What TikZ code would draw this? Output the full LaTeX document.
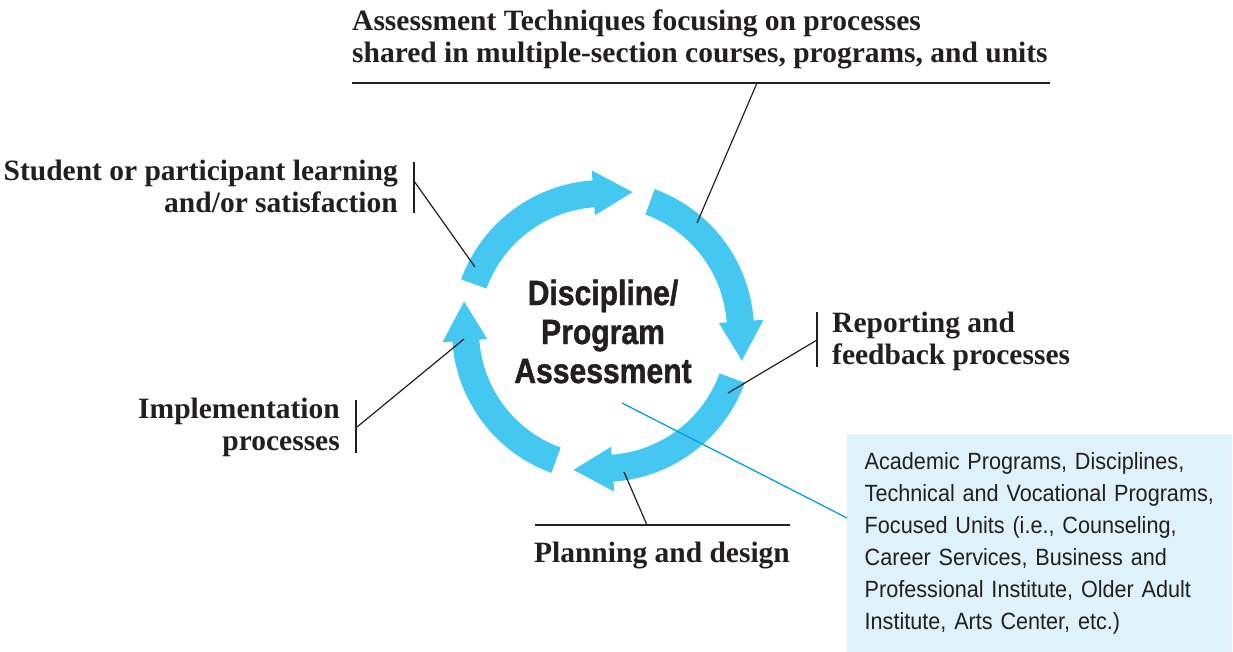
\documentclass[tikz,border=0pt]{standalone}
\usepackage{fontspec}
\setmainfont{Liberation Serif}
\newfontfamily\condsans[FakeStretch=0.86,FakeBold=1.2]{Liberation Sans}
\newfontfamily\boxsans[FakeStretch=0.92]{Liberation Sans}
\usetikzlibrary{positioning}

\definecolor{ringblue}{RGB}{68,200,242}
\definecolor{boxblue}{RGB}{223,241,250}
\definecolor{lineblue}{RGB}{0,160,226}
\definecolor{inkgray}{RGB}{35,31,32}

% one arrow of the ring, tail at angle #1, running clockwise
\newcommand{\ringseg}[1]{%
  \fill[ringblue] (#1:151pt) arc[start angle=#1, end angle=#1-66, radius=151pt]
    -- (#1-66:161pt) -- (#1-82:142pt) -- (#1-66:116pt) -- (#1-66:124pt)
    arc[start angle=#1-66, end angle=#1, radius=124pt] -- cycle;}

\begin{document}
\begin{tikzpicture}[x=1pt,y=-1pt,
    tag/.style={
      font=\bfseries\fontsize{29.5}{32}\selectfont,
      text=inkgray,
      inner sep=0pt
    },
    leader/.style={draw=inkgray, line width=1.4pt},
    unitbox/.style={
      fill=boxblue,
      text=inkgray,
      font=\boxsans\fontsize{23.5}{32}\selectfont,
      align=left,
      text width=350pt,
      inner xsep=17.5pt,
      inner ysep=0pt,
      minimum height=218pt
    }
    ]
    \useasboundingbox (0,0) rectangle (1233,652);

    % the ring
    \begin{scope}[shift={(603,331)}]
      \foreach \a in {160,70,-20,-110} {\ringseg{\a}}
    \end{scope}
    \node[font=\condsans\bfseries\fontsize{35}{39}\selectfont, text=inkgray,
      align=center, inner sep=0pt, anchor=base] (title) at (603,383)
      {Discipline/\\Program\\Assessment};
    \coordinate (pointer) at (622,403);

    % labels
    \node[tag, align=left, anchor=base west] (techniques) at (352,63)
      {Assessment Techniques focusing on processes\\
       shared in multiple-section courses, programs, and units};
    \node[tag, align=right, anchor=base east] (learning) at (398,213)
      {Student or participant learning\\and/or satisfaction};
    \node[tag, align=right, anchor=base east] (implement) at (340,450)
      {Implementation\\processes};
    \node[tag, align=left, anchor=base west] (reporting) at (832,364)
      {Reporting and\\feedback processes};
    \node[tag, anchor=base] (planning) at (662,562) {Planning and design};
    \node[unitbox, anchor=north west] (units) at (847,434)
      {Academic Programs, Disciplines,\\
       Technical and Vocational Programs,\\
       Focused Units (i.e., Counseling,\\
       Career Services, Business and\\
       Professional Institute, Older Adult\\
       Institute, Arts Center, etc.)};

    % rules and bars beside the labels
    \coordinate (techL) at (352,83);
    \coordinate (techR) at (1050,83);
    \coordinate (techhook) at (757,83);
    \coordinate (learnT) at (414,162);
    \coordinate (learnB) at (414,213);
    \coordinate (learnhook) at (414,181);
    \coordinate (implT) at (356,400);
    \coordinate (implB) at (356,453);
    \coordinate (implhook) at (357,427);
    \coordinate (repT) at (817,312);
    \coordinate (repB) at (817,367);
    \coordinate (rephook) at (817,340);
    \coordinate (planL) at (535,525);
    \coordinate (planR) at (790,525);
    \coordinate (planhook) at (647,525);
    \draw[leader] (techL) -- (techR);
    \draw[leader] (learnT) -- (learnB);
    \draw[leader] (implT) -- (implB);
    \draw[leader] (repT) -- (repB);
    \draw[leader] (planL) -- (planR);

    % ends on the ring
    \coordinate (techend) at (697,223);
    \coordinate (learnend) at (475,267);
    \coordinate (implend) at (464,339);
    \coordinate (repend) at (728,393);
    \coordinate (planend) at (624,472);
    \draw[leader, line width=1.2pt] (techhook) -- (techend);
    \draw[leader, line width=1.2pt] (learnhook) -- (learnend);
    \draw[leader, line width=1.2pt] (implhook) -- (implend);
    \draw[leader, line width=1.2pt] (rephook) -- (repend);
    \draw[leader, line width=1.2pt] (planhook) -- (planend);
    \draw[lineblue, line width=1.3pt] (pointer) -- ([yshift=-84pt]units.north west);
  \end{tikzpicture}
\end{document}
